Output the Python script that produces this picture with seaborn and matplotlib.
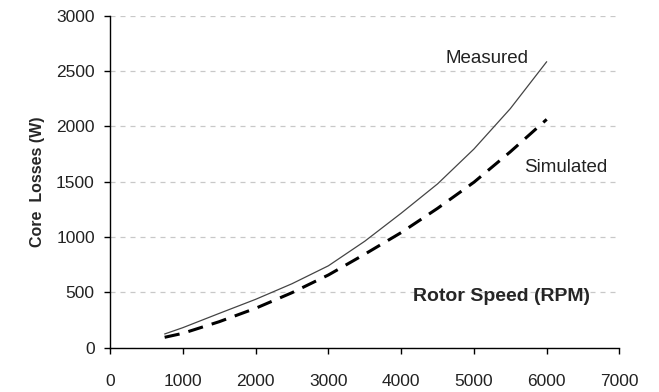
import numpy as np
import pandas as pd
import matplotlib
matplotlib.use("Agg")
import matplotlib.pyplot as plt
import seaborn as sns

# dados
rpm = [750, 1000, 1500, 2000, 2500, 3000, 3500, 4000, 4500, 5000, 5500, 6000]
medido = [124, 181, 310, 437, 578, 740, 962, 1215, 1480, 1795, 2160, 2584]
simulado = [94, 130, 235, 356, 497, 657, 845, 1040, 1259, 1495, 1770, 2063]

x_ticks = [0, 1000, 2000, 3000, 4000, 5000, 6000, 7000]
y_ticks = [0, 500, 1000, 1500, 2000, 2500, 3000]

df = pd.DataFrame({"RPM": rpm, "Measured": medido, "Simulated": simulado})

sns.set_style("white")
plt.rcParams['font.family'] = ['Liberation Sans', 'DejaVu Sans']

fig = plt.figure(figsize=(6.59, 3.92), dpi=100)
ax = fig.add_axes([0.167, 0.113, 0.773, 0.847])

sns.lineplot(data=df, x="RPM", y="Measured", ax=ax, color="#444444", linewidth=0.9)
sns.lineplot(data=df, x="RPM", y="Simulated", ax=ax, color="black", linewidth=2.2,
             linestyle=(0, (5, 3)))

ax.set_xlim(0, 7000)
ax.set_ylim(0, 3000)
ax.set_xticks(x_ticks)
ax.set_yticks(y_ticks)
ax.yaxis.grid(True, linestyle=(0, (4, 4)), color="#c8c8c8", linewidth=0.9)
ax.set_axisbelow(True)

for lado in ["top", "right"]:
    ax.spines[lado].set_visible(False)
ax.spines["left"].set_color("black")
ax.spines["bottom"].set_color("black")
ax.spines["left"].set_linewidth(1.0)
ax.spines["bottom"].set_linewidth(1.0)

ax.tick_params(axis="both", direction="out", length=4, width=1, color="black",
               labelsize=12.5, labelcolor="#222222")
ax.tick_params(axis="x", pad=15)
ax.tick_params(axis="y", pad=7)
ax.tick_params(left=True, bottom=True)

ax.set_xlabel("")
ax.set_ylabel("Core  Losses (W)", fontsize=11.5, fontweight="bold", labelpad=8)

ax.text(5374, 467, "Rotor Speed (RPM)", fontsize=14, fontweight="bold",
        ha="center", va="center")
ax.text(5181, 2617, "Measured", fontsize=13.5, ha="center", va="center", color="#222222")
ax.text(6267, 1632, "Simulated", fontsize=13.5, ha="center", va="center", color="#222222")

fig.savefig("out.png", dpi=100)
